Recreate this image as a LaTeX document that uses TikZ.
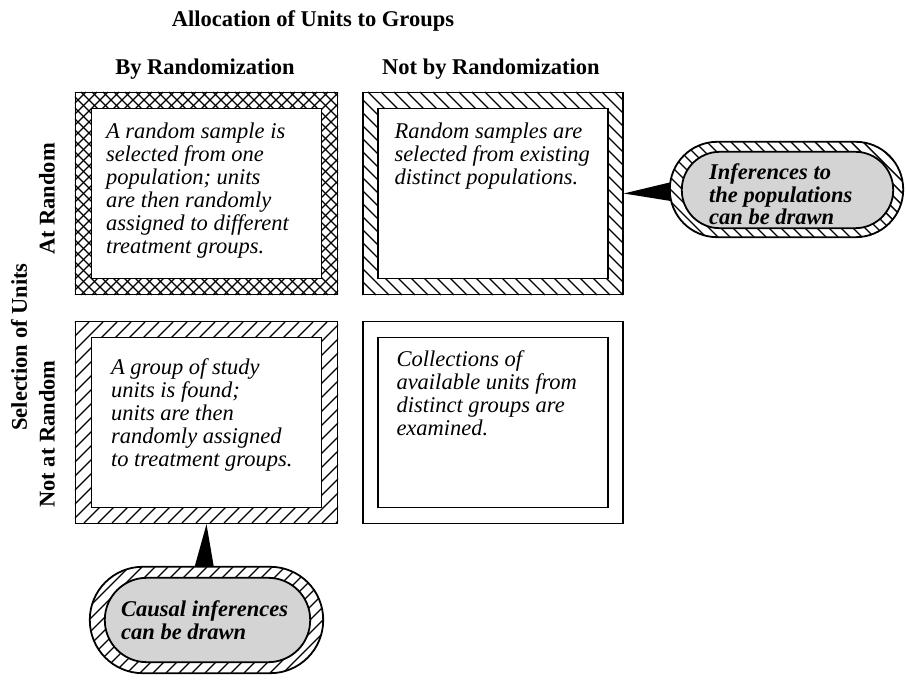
\documentclass[tikz,border=0pt]{standalone}
\usepackage{fontspec}
\setmainfont{Liberation Serif}
\usepackage{tikz}
\usetikzlibrary{positioning,calc}

\begin{document}
\begin{tikzpicture}[x=1pt, y=-1pt,
		headnode/.style={font=\bfseries\fontsize{22.5}{24}\selectfont, inner sep=0pt},
		outerbox/.style={draw, line width=1.4pt, minimum width=262pt, minimum height=202pt, inner sep=0pt},
		innerbox/.style={draw, fill=white, line width=1.4pt, minimum width=230pt, minimum height=170pt, inner sep=0pt},
		boxtext/.style={font=\itshape\fontsize{22.5}{23}\selectfont, align=left, inner sep=0pt},
		ovalframe/.style={draw=none, inner sep=0pt, minimum width=233pt},
		ovaltext/.style={font=\bfseries\itshape\fontsize{22.5}{22.5}\selectfont, align=left, anchor=west, inner sep=0pt},
		hatch/.style={line width=1.4pt},
		ovalline/.style={line width=1.8pt},
		pointer/.style={fill=black}
		]
	
		\useasboundingbox (0,0) rectangle (906,684);
		
		% headings
		\node[headnode] (alloc) at (313,21) {Allocation of Units to Groups};
		\node[headnode] (byrand) at (205,69) {By Randomization};
		\node[headnode] (notbyrand) at (491,69) {Not by Randomization};
		\node[headnode, rotate=90] (selunits) at (19,347) {Selection of Units};
		\node[headnode, rotate=90] (atrand) at (47,199) {At Random};
		\node[headnode, rotate=90] (notatrand) at (47,434) {Not at Random};
		
		% outer frames
		\node[outerbox] (tl) at (206.5,193.5) {};
		\node[outerbox, minimum width=260pt] (tr) at (493,193.5) {};
		\node[outerbox] (bl) at (206.5,422.5) {};
		\node[outerbox, minimum width=260pt] (br) at (493,422.5) {};
		
		\begin{scope}
		\clip (tl.north west) rectangle (tl.south east);
		\foreach \c in {-128,-117,...,338} {
			\draw[hatch, line width=1.2pt] (\c,295) -- ++(203,-203);
			\draw[hatch, line width=1.2pt] (\c,92) -- ++(203,203);
		}
		\end{scope}
		\begin{scope}
		\clip (tr.north west) rectangle (tr.south east);
		\foreach \c in {160,173,...,623}
			\draw[hatch] (\c,92) -- ++(203,203);
		\end{scope}
		\begin{scope}
		\clip (bl.north west) rectangle (bl.south east);
		\foreach \c in {-126,-112,...,338}
			\draw[hatch] (\c,523) -- ++(201,-201);
		\end{scope}
		
		% inner boxes
		\node[innerbox] (tlin) at (tl) {};
		\node[innerbox] (trin) at (tr) {};
		\node[innerbox] (blin) at (bl) {};
		\node[innerbox] (brin) at (br) {};
		
		\node[boxtext, below right=15pt and 15pt of tlin.north west] (tltxt) {A random sample is\\selected from one\\population; units\\are then randomly\\assigned to different\\treatment groups.};
		\node[boxtext, below right=15pt and 17pt of trin.north west] (trtxt) {Random samples are\\selected from existing\\distinct populations.};
		\node[boxtext, below right=22pt and 20pt of blin.north west] (bltxt) {A group of study\\units is found;\\units are then\\randomly assigned\\to treatment groups.};
		\node[boxtext, below right=14pt and 19pt of brin.north west] (brtxt) {Collections of\\available units from\\distinct groups are\\examined.};
		
		% callouts
		\node[ovalframe, minimum height=95pt] (popinf) at (786.5,189.5) {};
		\node[ovalframe, minimum height=106pt] (causinf) at (206.5,620) {};
		
		\fill[pointer] (tr.east) -- ($(popinf.west)+(4,-8)$) -- ($(popinf.west)+(4,12)$) -- cycle;
		\fill[pointer] (bl.south) -- ($(causinf.north)+(-13,4)$) -- ($(causinf.north)+(8,4)$) -- cycle;
		
		\draw[ovalline, fill=white, rounded corners=47.5pt] (popinf.north west) rectangle (popinf.south east);
		\begin{scope}
		\clip[rounded corners=47.5pt] (popinf.north west) rectangle (popinf.south east);
		\foreach \c in {575,587,...,903}
			\draw[hatch] (\c,142) -- ++(95,95);
		\end{scope}
		\draw[ovalline, fill=black!17, rounded corners=38pt] ($(popinf.north west)+(12,10)$) rectangle ($(popinf.south east)+(-10,-9)$);
		
		\draw[ovalline, fill=white, rounded corners=53pt] (causinf.north west) rectangle (causinf.south east);
		\begin{scope}
		\clip[rounded corners=53pt] (causinf.north west) rectangle (causinf.south east);
		\foreach \c in {-16,-3,...,323}
			\draw[hatch] (\c,673) -- ++(106,-106);
		\end{scope}
		\draw[ovalline, fill=black!17, rounded corners=42pt] ($(causinf.north west)+(15,11)$) rectangle ($(causinf.south east)+(-13,-11)$);
		
		\node[ovaltext] (poptxt) at (709,194.5) {Inferences to\\the populations\\can be drawn};
		\node[ovaltext] (caustxt) at (121,620) {Causal inferences\\can be drawn};
		
\end{tikzpicture}
\end{document}
